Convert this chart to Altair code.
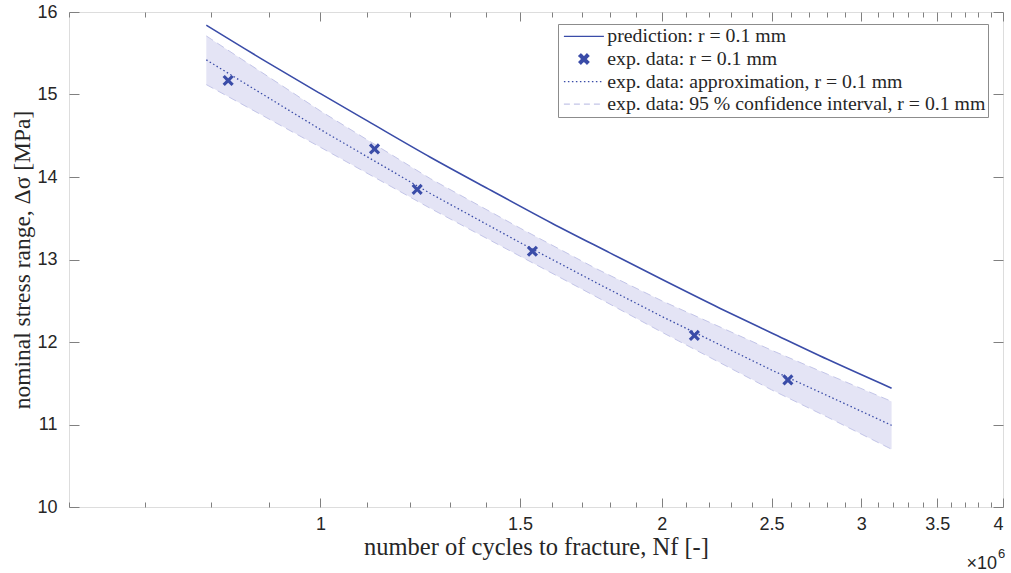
import altair as alt
import pandas as pd

# ---------------- data (N in units of 10^6 cycles) ----------------
exp_N = [0.829, 1.116, 1.217, 1.538, 2.137, 2.584]
exp_S = [15.17, 14.34, 13.85, 13.10, 12.08, 11.54]

pred_N = [0.793, 0.9, 1.0, 1.1, 1.25, 1.4, 1.6, 1.8, 2.0, 2.25, 2.5, 2.8, 3.19]
pred_S = [15.84, 15.38, 15.01, 14.68, 14.24, 13.87, 13.44, 13.08, 12.76, 12.41, 12.11, 11.79, 11.44]

fit_N = [0.793, 1.0, 1.25, 1.5, 1.75, 2.0, 2.5, 2.8, 3.19]
fit_S = [15.42, 14.575, 13.80, 13.205, 12.72, 12.31, 11.66, 11.35, 10.99]
ci_hi = [15.71, 14.80, 13.98, 13.38, 12.89, 12.50, 11.90, 11.61, 11.28]
ci_lo = [15.12, 14.36, 13.62, 13.04, 12.55, 12.12, 11.42, 11.09, 10.70]

series = [
    "prediction: r = 0.1 mm",
    "exp. data: r = 0.1 mm",
    "exp. data: approximation, r = 0.1 mm",
    "exp. data: 95 % confidence interval, r = 0.1 mm",
]

x_major = [1, 1.5, 2, 2.5, 3, 3.5, 4]
x_minor = [0.6, 0.7, 0.8, 0.9, 1.1, 1.2, 1.3, 1.4, 1.6, 1.7, 1.8, 1.9,
           2.1, 2.2, 2.3, 2.4, 2.6, 2.7, 2.8, 2.9, 3.1, 3.2, 3.3, 3.4,
           3.6, 3.7, 3.8, 3.9]
y_ticks = [10, 11, 12, 13, 14, 15, 16]

# ---------------- styles ----------------
BLUE = "#3a4ca8"
BAND = "#e4e4f5"
BAND_EDGE = "#c3c5e8"
AXC = "#808080"
TXT = "#262626"
SERIF = "Liberation Serif"
SANS = "Liberation Sans"
X_PATH = ("M-1,-0.6L-0.6,-1L0,-0.4L0.6,-1L1,-0.6L0.4,0L1,0.6L0.6,1"
          "L0,0.4L-0.6,1L-1,0.6L-0.4,0Z")
LINE_PATH = "M-4,0L4,0"

W, H = 934, 495

df_exp = pd.DataFrame({"N": exp_N, "S": exp_S})
df_pred = pd.DataFrame({"N": pred_N, "S": pred_S})
df_fit = pd.DataFrame({"N": fit_N, "S": fit_S, "hi": ci_hi, "lo": ci_lo})
df_leg = pd.DataFrame({"series": series})

xs = alt.Scale(type="log", domain=[0.6, 4], nice=False)
ys = alt.Scale(domain=[10, 16], nice=False, zero=False)


def tick_axis(orient, values, size):
    return alt.Axis(orient=orient, values=values, tickSize=size, offset=-size,
                    labels=False, title=None, grid=False, domain=False,
                    tickColor=AXC, tickWidth=1)


x_main = alt.Axis(orient="bottom", values=x_major, format="~g", tickSize=9,
                  offset=-9, labelPadding=8, labelFont=SANS, labelFontSize=18,
                  labelColor=TXT, tickColor=AXC, grid=False, domain=False,
                  title="number of cycles to fracture, Nf [-]",
                  titleFont=SERIF, titleFontSize=24.5, titleFontWeight="normal",
                  titleColor=TXT, titlePadding=2)
y_main = alt.Axis(orient="left", values=y_ticks, tickSize=10, offset=-10,
                  labelPadding=12, labelFont=SANS, labelFontSize=18,
                  labelColor=TXT, tickColor=AXC, grid=False, domain=False,
                  title="nominal stress range, Δσ [MPa]",
                  titleFont=SERIF, titleFontSize=23.5, titleFontWeight="normal",
                  titleColor=TXT, titlePadding=2)

band = alt.Chart(df_fit).mark_area(color=BAND, opacity=1).encode(
    x=alt.X("N:Q", scale=xs, axis=x_main),
    y=alt.Y("lo:Q", scale=ys, axis=y_main),
    y2="hi:Q",
)
edge_hi = alt.Chart(df_fit).mark_line(color=BAND_EDGE, strokeWidth=1, strokeDash=[8, 5]).encode(
    x=alt.X("N:Q", scale=xs, axis=tick_axis("bottom", x_minor, 5)),
    y=alt.Y("hi:Q", scale=ys, axis=tick_axis("right", y_ticks, 10)),
)
edge_lo = alt.Chart(df_fit).mark_line(color=BAND_EDGE, strokeWidth=1, strokeDash=[8, 5]).encode(
    x=alt.X("N:Q", scale=xs, axis=tick_axis("top", x_minor, 5)),
    y=alt.Y("lo:Q", scale=ys, axis=None),
)
fit = alt.Chart(df_fit).mark_line(color=BLUE, strokeWidth=1.3, strokeDash=[1.5, 2.5]).encode(
    x=alt.X("N:Q", scale=xs, axis=tick_axis("top", x_major, 9)),
    y=alt.Y("S:Q", scale=ys, axis=None),
)
pred = alt.Chart(df_pred).mark_line(color=BLUE, strokeWidth=1.6, interpolate="monotone").encode(
    x=alt.X("N:Q", scale=xs, axis=None),
    y=alt.Y("S:Q", scale=ys, axis=None),
)
pts = alt.Chart(df_exp).mark_point(shape=X_PATH, filled=True, size=125, color=BLUE, opacity=1).encode(
    x=alt.X("N:Q", scale=xs, axis=None),
    y=alt.Y("S:Q", scale=ys, axis=None),
)

leg = alt.Legend(orient="none", legendX=489, legendY=12, title=None,
                 strokeColor="#8c8c8c", fillColor="white", padding=2.5,
                 labelFont=SERIF, labelFontSize=19.8, labelColor=TXT, labelLimit=600,
                 symbolSize=100, symbolStrokeWidth=1.3, symbolOffset=13.5,
                 labelOffset=13.5, rowPadding=1.6, cornerRadius=0)
legend_layer = alt.Chart(df_leg).mark_point(filled=True, clip=True, opacity=1).encode(
    x=alt.value(-100), y=alt.value(-100),
    shape=alt.Shape("series:N", scale=alt.Scale(domain=series, range=[LINE_PATH, X_PATH, LINE_PATH, LINE_PATH]), legend=leg),
    fill=alt.Fill("series:N", scale=alt.Scale(domain=series, range=[BLUE, BLUE, BLUE, BAND_EDGE]), legend=leg),
    stroke=alt.Stroke("series:N", scale=alt.Scale(domain=series, range=[BLUE, BLUE, BLUE, BAND_EDGE]), legend=leg),
    strokeDash=alt.StrokeDash("series:N", scale=alt.Scale(domain=series, range=[[1, 0], [1, 0], [1.5, 2.5], [6, 4]]), legend=leg),
)

exp_txt = alt.Chart(df_leg.head(1)).mark_text(text="×10", font=SANS, fontSize=18, color=TXT, align="right", baseline="middle").encode(
    x=alt.value(928), y=alt.value(552))
exp6 = alt.Chart(df_leg.head(1)).mark_text(text="6", font=SANS, fontSize=13, color=TXT, align="left", baseline="middle").encode(
    x=alt.value(929), y=alt.value(542))

chart = alt.layer(band, edge_hi, edge_lo, fit, pred, pts, legend_layer, exp_txt, exp6).resolve_axis(
    x="independent", y="independent"
).properties(
    width=W, height=H,
    autosize=alt.AutoSizeParams(type="none"),
    padding={"left": 69, "top": 12, "right": 8, "bottom": 66},
).configure_view(stroke=AXC, strokeWidth=1).configure(background="white")

chart.save("out.html", embed_options={"renderer": "svg", "actions": False})
